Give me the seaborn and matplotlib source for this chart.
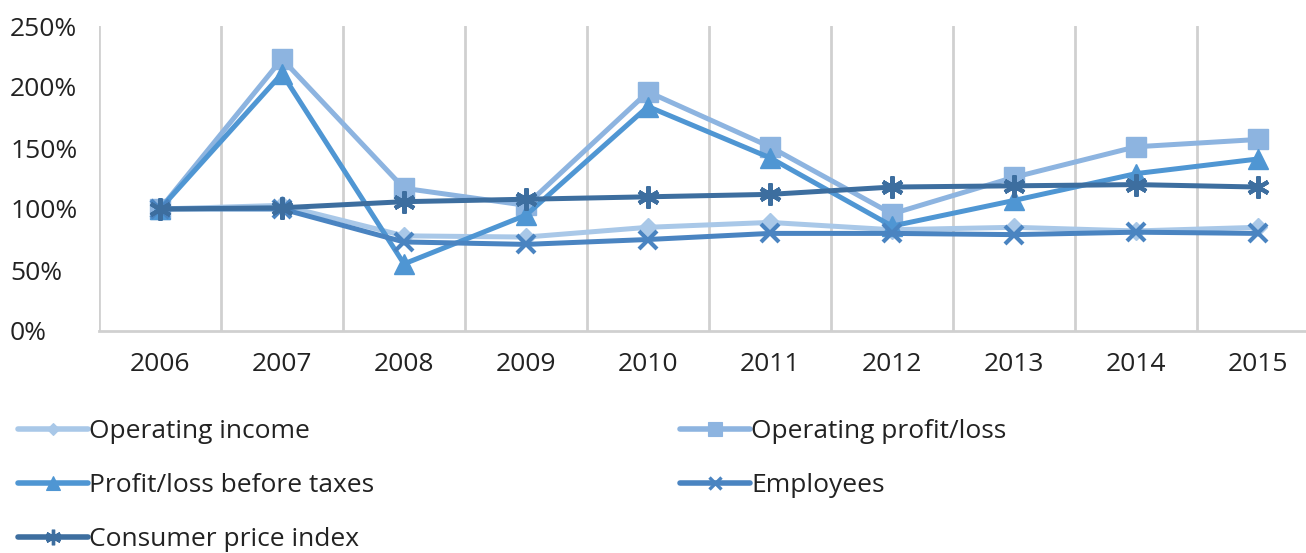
import matplotlib
matplotlib.use("Agg")
import matplotlib.pyplot as plt
import seaborn as sns
import pandas as pd
from matplotlib.ticker import FixedLocator, PercentFormatter

years = ["2006", "2007", "2008", "2009", "2010", "2011", "2012", "2013", "2014", "2015"]
operating_income = [100, 103, 78, 77, 85, 89, 83, 85, 82, 85]
operating_profit = [100, 223, 117, 103, 196, 151, 96, 126, 151, 157]
profit_before_taxes = [100, 211, 55, 95, 184, 142, 86, 107, 129, 141]
employees = [100, 100, 73, 71, 75, 80, 80, 79, 81, 80]
consumer_price_index = [100, 101, 106, 108, 110, 112, 118, 119, 120, 118]
series_names = ["Operating income", "Operating profit/loss", "Profit/loss before taxes",
                "Employees", "Consumer price index"]
y_ticks = [0, 50, 100, 150, 200, 250]

sns.set_style("white")
plt.rcParams["font.family"] = ["Open Sans", "DejaVu Sans"]

W, H = 1306, 553
fig = plt.figure(figsize=(W / 100, H / 100), dpi=100)
ax_left, ax_right, ax_top, ax_bottom = 99, 1319, 26, 331
ax = fig.add_axes([ax_left / W, 1 - ax_bottom / H, (ax_right - ax_left) / W, (ax_bottom - ax_top) / H])

styles = {
    "Operating income": dict(color="#a9c8e8", marker="D", ms=9, mew=1),
    "Operating profit/loss": dict(color="#8db4e0", marker="s", ms=15, mew=1),
    "Profit/loss before taxes": dict(color="#4f96d3", marker="^", ms=15, mew=1),
    "Employees": dict(color="#4a84c1", marker="x", ms=13, mew=3),
    "Consumer price index": dict(color="#3d6e9f", marker=(6, 2, 0), ms=16, mew=3),
}
values = [operating_income, operating_profit, profit_before_taxes, employees, consumer_price_index]

for name, vals in zip(series_names, values):
    st = styles[name]
    df = pd.DataFrame({"year": years, "value": vals})
    sns.lineplot(data=df, x="year", y="value", ax=ax, color=st["color"], linewidth=3.6,
                 marker=st["marker"], markersize=st["ms"], markeredgecolor=st["color"],
                 markerfacecolor=st["color"], markeredgewidth=st["mew"], legend=False,
                 solid_joinstyle="miter", zorder=3)

ax.set_xlim(-0.5, len(years) - 0.5)
ax.set_ylim(0, 250)
ax.set_xlabel("")
ax.set_ylabel("")
ax.set_yticks(y_ticks)
ax.yaxis.set_major_formatter(PercentFormatter(decimals=0))
ax.xaxis.set_minor_locator(FixedLocator([i - 0.5 for i in range(len(years) + 1)]))
ax.grid(False)
ax.grid(True, which="minor", axis="x", color="#d0d0d0", linewidth=2)
for s in ["top", "right", "left"]:
    ax.spines[s].set_visible(False)
ax.spines["bottom"].set_color("#d0d0d0")
ax.spines["bottom"].set_linewidth(2)
ax.tick_params(axis="both", which="both", length=0, labelsize=19, colors="#222222")
ax.tick_params(axis="x", pad=15)
ax.tick_params(axis="y", pad=64)
for lab in ax.get_yticklabels():
    lab.set_horizontalalignment("left")

def handles_for(names):
    from matplotlib.lines import Line2D
    hs = []
    for n in names:
        st = styles[n]
        hs.append(Line2D([], [], color=st["color"], linewidth=4, marker=st["marker"],
                         markersize=st["ms"] * 0.7, markeredgecolor=st["color"],
                         markerfacecolor=st["color"], markeredgewidth=st["mew"] * 0.8))
    return hs

col1 = ["Operating income", "Profit/loss before taxes", "Consumer price index"]
col2 = ["Operating profit/loss", "Employees"]
common = dict(loc="upper left", frameon=False, fontsize=19, handlelength=2.65,
              handletextpad=0.05, labelspacing=1.1, borderpad=0, borderaxespad=0)
leg1 = fig.legend(handles_for(col1), col1, bbox_to_anchor=(18 / W, 1 - 419 / H), **common)
leg2 = fig.legend(handles_for(col2), col2, bbox_to_anchor=(680 / W, 1 - 419 / H), **common)
for leg in (leg1, leg2):
    for t in leg.get_texts():
        t.set_color("#222222")

fig.savefig("out.png", dpi=100, facecolor="white")
